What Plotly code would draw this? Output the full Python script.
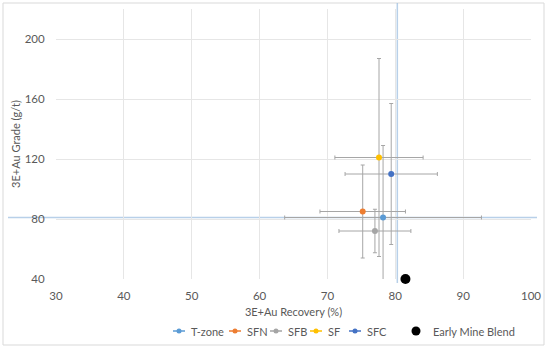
import plotly.graph_objects as go

# Flotation results per ore zone: mean recovery / grade with spread
series = ["T-zone", "SFN", "SFB", "SF", "SFC"]
recovery = [78.2, 75.2, 77.0, 77.6, 79.4]
grade = [81, 85, 72, 121, 110]
recovery_err = [14.5, 6.3, 5.3, 6.5, 6.8]
grade_err = [48, 31, 14.5, 66, 47]
colors = ["#5B9BD5", "#ED7D31", "#A5A5A5", "#FFC000", "#4472C4"]

blend_name = "Early Mine Blend"
blend_recovery = [81.5]
blend_grade = [40]

# Reference cross-hair lines
ref_recovery = 80.3
ref_grade = 81

x_ticks = [30, 40, 50, 60, 70, 80, 90, 100]
y_ticks = [40, 80, 120, 160, 200]

W, H = 548, 348
L, R, T, B = 56, 17, 9, 69
PW, PH = W - L - R, H - T - B


def fx(px):
    return (px - L) / PW


def fy(py):
    return (H - B - py) / PH


FONT = "Lato"
TXT = "#595959"
ERR = "#A6A6A6"
REF = "rgba(160,192,226,0.75)"

fig = go.Figure()

for name, x, y, ex, ey, c in zip(series, recovery, grade, recovery_err, grade_err, colors):
    fig.add_trace(go.Scatter(
        x=[x], y=[y], name=name, mode="markers",
        marker=dict(color=c, size=6),
        error_x=dict(type="data", array=[ex], color=ERR, thickness=1, width=2),
        error_y=dict(type="data", array=[ey], color=ERR, thickness=1, width=2),
        showlegend=False,
    ))

fig.add_trace(go.Scatter(
    x=blend_recovery, y=blend_grade, name=blend_name, mode="markers",
    marker=dict(color="black", size=10), cliponaxis=False, showlegend=False,
))

shapes = []
# chart frame
shapes.append(dict(type="rect", xref="paper", yref="paper",
                   x0=fx(3), x1=fx(544), y0=fy(345), y1=fy(3),
                   line=dict(color="#D9D9D9", width=1), layer="below"))
# cross-hair reference lines
shapes.append(dict(type="line", xref="x", yref="paper",
                   x0=ref_recovery, x1=ref_recovery, y0=fy(283), y1=fy(3),
                   line=dict(color=REF, width=1.5), layer="below"))
shapes.append(dict(type="line", xref="paper", yref="y",
                   x0=fx(8), x1=fx(537), y0=ref_grade, y1=ref_grade,
                   line=dict(color=REF, width=1.5), layer="below"))

annotations = []
# legend row
leg_y = 331
leg_starts = [173, 229, 270, 310, 349]
for name, c, x0 in zip(series, colors, leg_starts):
    shapes.append(dict(type="line", xref="paper", yref="paper",
                       x0=fx(x0), x1=fx(x0 + 12), y0=fy(leg_y), y1=fy(leg_y),
                       line=dict(color=c, width=1.5)))
    cx, r = x0 + 6, 2.5
    shapes.append(dict(type="circle", xref="paper", yref="paper",
                       x0=fx(cx - r), x1=fx(cx + r), y0=fy(leg_y + r), y1=fy(leg_y - r),
                       fillcolor=c, line=dict(color=c, width=0)))
    annotations.append(dict(xref="paper", yref="paper", x=fx(x0 + 16), y=fy(leg_y),
                            text=name, showarrow=False, xanchor="left", yanchor="middle",
                            font=dict(family=FONT, size=11, color=TXT)))
cx, r = 416, 4.5
shapes.append(dict(type="circle", xref="paper", yref="paper",
                   x0=fx(cx - r), x1=fx(cx + r), y0=fy(leg_y + r), y1=fy(leg_y - r),
                   fillcolor="black", line=dict(color="black", width=0)))
annotations.append(dict(xref="paper", yref="paper", x=fx(431), y=fy(leg_y),
                        text=blend_name, showarrow=False, xanchor="left", yanchor="middle",
                        font=dict(family=FONT, size=11, color=TXT)))

fig.update_layout(
    width=W, height=H,
    margin=dict(l=L, r=R, t=T, b=B, autoexpand=False),
    paper_bgcolor="white", plot_bgcolor="white",
    font=dict(family=FONT, size=11, color=TXT),
    shapes=shapes, annotations=annotations,
    showlegend=False,
)
fig.update_xaxes(
    range=[30, 100], tickvals=x_ticks, ticktext=[str(v) for v in x_ticks],
    showgrid=True, gridcolor="#E6E6E6", gridwidth=1, zeroline=False, showline=False,
    ticks="outside", ticklen=6, tickcolor="rgba(0,0,0,0)",
    title=dict(text="3E+Au Recovery (%)", standoff=7, font=dict(size=11)),
    tickfont=dict(size=11.5),
)
fig.update_yaxes(
    range=[40, 220], tickvals=y_ticks, ticktext=[str(v) for v in y_ticks],
    showgrid=True, gridcolor="#E6E6E6", gridwidth=1, zeroline=False, showline=False,
    ticks="outside", ticklen=8, tickcolor="rgba(0,0,0,0)",
    title=dict(text="3E+Au Grade (g/t)", standoff=1, font=dict(size=11)),
    tickfont=dict(size=11.5),
)

fig.write_html("out.html")
